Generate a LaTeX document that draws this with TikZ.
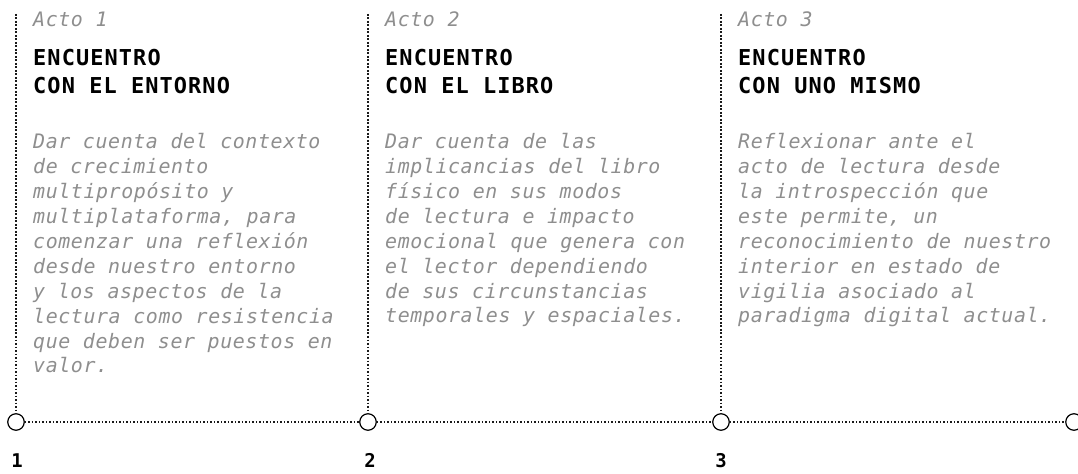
\documentclass[tikz,border=0pt]{standalone}
\usepackage{fontspec}
\newfontfamily\monobody[LetterSpace=3]{DejaVu Sans Mono}
\newfontfamily\monohead[LetterSpace=5]{DejaVu Sans Mono}
\newfontfamily\mononum{DejaVu Sans Mono}
\definecolor{txtgray}{HTML}{8E8E8E}
\definecolor{dotblack}{HTML}{1A1A1A}
\begin{document}
\begin{tikzpicture}[x=1bp,y=-1bp,
  dotline/.style={line width=1.7bp, dash pattern=on 1.6bp off 1.9bp, line cap=butt, draw=dotblack},
  stopmark/.style={circle, draw=black, line width=1.2bp, fill=white, minimum size=16.5bp, inner sep=0pt},
  acto/.style={anchor=base west, inner sep=0pt, font=\monobody\itshape\fontsize{20}{25}\selectfont, text=txtgray},
  head/.style={anchor=base west, inner sep=0pt, align=left, font=\monohead\bfseries\fontsize{22}{29}\selectfont},
  body/.style={anchor=base west, inner sep=0pt, align=left, font=\monobody\itshape\fontsize{20}{25}\selectfont, text=txtgray},
  num/.style={anchor=base, inner sep=0pt, font=\mononum\bfseries\fontsize{19}{20}\selectfont}]
\useasboundingbox (0,0) rectangle (1078,474);
% timeline stops
\coordinate (t1) at (16,14);
\coordinate (t2) at (368,14);
\coordinate (t3) at (721,14);
\node[stopmark] (c1) at (16,422) {};
\node[stopmark] (c2) at (368,422) {};
\node[stopmark] (c3) at (721,422) {};
\node[stopmark] (c4) at (1074,422) {};
\draw[dotline] (t1) -- (c1);
\draw[dotline] (t2) -- (c2);
\draw[dotline] (t3) -- (c3);
\draw[dotline] (c1) -- (c2);
\draw[dotline] (c2) -- (c3);
\draw[dotline] (c3) -- (c4);
% numbers
\node[num] (n1) at (17,467) {1};
\node[num] (n2) at (370,467) {2};
\node[num] (n3) at (721,467) {3};
% column 1 (base anchor = last line's baseline)
\node[acto] (a1) at (33,27) {Acto 1};
\node[head] (h1) at (33,94) {ENCUENTRO\\CON EL ENTORNO};
\node[body] (b1) at (33,373) {Dar cuenta del contexto\\de crecimiento\\multipropósito y\\multiplataforma, para\\comenzar una reflexión\\desde nuestro entorno\\y los aspectos de la\\lectura como resistencia\\que deben ser puestos en\\valor.};
% column 2
\node[acto] (a2) at (385,27) {Acto 2};
\node[head] (h2) at (385,94) {ENCUENTRO\\CON EL LIBRO};
\node[body] (b2) at (385,323) {Dar cuenta de las\\implicancias del libro\\físico en sus modos\\de lectura e impacto\\emocional que genera con\\el lector dependiendo\\de sus circunstancias\\temporales y espaciales.};
% column 3
\node[acto] (a3) at (738,27) {Acto 3};
\node[head] (h3) at (738,94) {ENCUENTRO\\CON UNO MISMO};
\node[body] (b3) at (738,323) {Reflexionar ante el\\acto de lectura desde\\la introspección que\\este permite, un\\reconocimiento de nuestro\\interior en estado de\\vigilia asociado al\\paradigma digital actual.};
\end{tikzpicture}
\end{document}
